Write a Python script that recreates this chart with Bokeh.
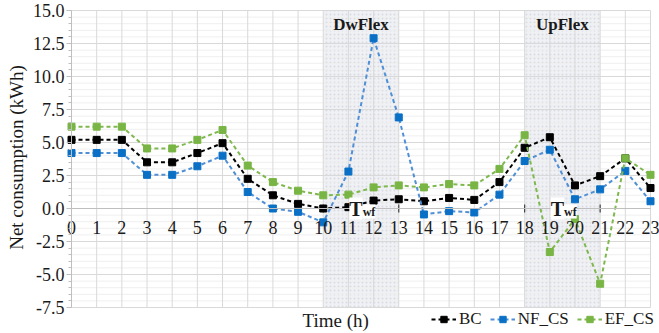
import math
from bokeh.plotting import figure
from bokeh.models import (Range1d, FixedTicker, NumeralTickFormatter,
                          Label, Legend, LegendItem)
from bokeh.embed import file_html
from bokeh.resources import INLINE

# ---- data ----
hours = list(range(24))
bc = [5.2, 5.2, 5.2, 3.5, 3.5, 4.2, 4.95, 2.25, 1.0, 0.35, 0.0, 0.1,
      0.6, 0.7, 0.55, 0.8, 0.65, 2.0, 4.6, 5.4, 1.75, 2.45, 3.8, 1.55]
nf_cs = [4.2, 4.2, 4.2, 2.55, 2.55, 3.2, 4.0, 1.25, 0.0, -0.25, -1.05, 2.8,
         12.9, 6.9, -0.45, -0.2, -0.3, 1.05, 3.6, 4.45, 0.7, 1.45, 2.85, 0.55]
ef_cs = [6.2, 6.2, 6.2, 4.55, 4.55, 5.2, 5.95, 3.25, 2.0, 1.35, 1.0, 1.05,
         1.6, 1.75, 1.6, 1.85, 1.75, 3.0, 5.55, -3.3, -0.8, -5.7, 3.8, 2.55]
series_names = ["BC", "NF_CS", "EF_CS"]
x_tick_labels = [str(h) for h in hours]
y_ticks = [-7.5, -5.0, -2.5, 0.0, 2.5, 5.0, 7.5, 10.0, 12.5, 15.0]
y_min, y_max = y_ticks[0], y_ticks[-1]
dw_window = (10, 13)
up_window = (18, 21)
window_names = ["DwFlex", "UpFlex"]
y_title = "Net consumption (kWh)"
x_title = "Time (h)"

FONT = "Liberation Serif"
GRID = "#d9d9d9"
MINOR = "#efefef"
AXIS = "#bfbfbf"
TXT = "#1a1a1a"

W, H = 659, 333
# plot area in canvas pixels: x=0 -> 71, x=23 -> 650 ; y=15 -> 10, y=-7.5 -> 307
X0, X1, Y0, Y1 = 71, 650, 10, 307
px_x = (X1 - X0) / 23
px_y = (Y1 - Y0) / (y_max - y_min)
x_range = Range1d(-X0 / px_x, 23 + (W - X1) / px_x)
y_range = Range1d(y_min - (H - Y1) / px_y, y_max + Y0 / px_y)

p = figure(width=W, height=H, output_backend="svg", toolbar_location=None,
           x_range=x_range, y_range=y_range,
           min_border_left=0, min_border_right=0, min_border_top=0, min_border_bottom=0)
p.background_fill_color = "white"
p.border_fill_color = "white"
p.outline_line_color = None
p.xgrid.visible = False
p.ygrid.visible = False

# flexibility windows (shaded)
p.quad(left=[dw_window[0], up_window[0]], right=[dw_window[1], up_window[1]],
       bottom=y_min, top=y_max, fill_color="#e1e4ea", fill_alpha=0.5,
       hatch_pattern="dot", hatch_color="#b5bbc6", hatch_alpha=0.4,
       hatch_scale=4, hatch_weight=0.6, line_color=None)

# grid lines drawn from the tick arrays
minor_ticks = [a + k * (b - a) / 5 for a, b in zip(y_ticks[:-1], y_ticks[1:]) for k in range(1, 5)]
p.segment(x0=0, y0=minor_ticks, x1=23, y1=minor_ticks, line_color=MINOR, line_width=1)
p.segment(x0=0, y0=y_ticks, x1=23, y1=y_ticks, line_color=GRID, line_width=1)
p.segment(x0=hours, y0=y_min, x1=hours, y1=y_max, line_color=GRID, line_width=1)

# x axis at y = 0
xt = FixedTicker(ticks=hours)
p.xaxis.ticker = xt
p.xaxis.major_label_overrides = {h: lab for h, lab in zip(hours, x_tick_labels)}
p.xaxis.fixed_location = 0
p.xaxis.bounds = (0, 23)
p.xaxis.axis_line_color = AXIS
p.xaxis.major_tick_line_color = None
p.xaxis.minor_tick_line_color = None
p.xaxis.major_label_standoff = 6
p.xaxis.major_label_text_font = FONT
p.xaxis.major_label_text_font_size = "18px"
p.xaxis.major_label_text_color = TXT

# y axis at x = 0
yt = FixedTicker(ticks=y_ticks, minor_ticks=minor_ticks)
p.yaxis.ticker = yt
p.yaxis.fixed_location = 0
p.yaxis.bounds = (y_min, y_max)
p.yaxis.formatter = NumeralTickFormatter(format="0.0")
p.yaxis.axis_line_color = AXIS
p.yaxis.major_tick_line_color = AXIS
p.yaxis.minor_tick_line_color = AXIS
p.yaxis.major_tick_in = 0
p.yaxis.major_tick_out = 5
p.yaxis.minor_tick_in = 0
p.yaxis.minor_tick_out = 3
p.yaxis.major_label_standoff = 2
p.yaxis.major_label_text_font = FONT
p.yaxis.major_label_text_font_size = "18px"
p.yaxis.major_label_text_color = TXT

for (a, b), name in zip([dw_window, up_window], window_names):
    p.add_layout(Label(x=(a + b) / 2, y=13.95, text=name, text_font=FONT,
                       text_font_size="17px", text_font_style="bold",
                       text_align="center", text_baseline="middle", text_color=TXT))
    # T_wf bracket
    p.segment(x0=[a, a, b], y0=[0, -0.3, -0.3], x1=[b, a, b], y1=[0, 0.3, 0.3],
              line_color="#404040", line_width=1.2)
    p.add_layout(Label(x=(a + b) / 2, y=0, x_offset=-5, text="T", text_font=FONT,
                       text_font_size="20px", text_font_style="bold",
                       text_align="center", text_baseline="middle", text_color=TXT,
                       background_fill_color="white"))
    p.add_layout(Label(x=(a + b) / 2, y=0, x_offset=8, y_offset=-3, text="wf", text_font=FONT,
                       text_font_size="12px", text_font_style="bold",
                       text_align="center", text_baseline="middle", text_color=TXT,
                       background_fill_color="white"))

# series
styles = [("#000000", "#000000"), ("#4f8fd6", "#0a70c6"), ("#7fb84e", "#78b544")]
items = []
for name, ys, (lc, mc) in zip(series_names, [bc, nf_cs, ef_cs], styles):
    ln = p.line(hours, ys, line_color=lc, line_width=2, line_dash="4 3")
    sc = p.scatter(hours, ys, marker="square", size=7, fill_color=mc, line_color=mc)
    items.append(LegendItem(label=name, renderers=[ln, sc]))

legend = Legend(items=items, orientation="horizontal", location=(431, 4),
                label_text_font=FONT, label_text_font_size="17px",
                label_text_color=TXT, glyph_width=25, glyph_height=16, label_height=16,
                label_standoff=3, spacing=8, padding=0, margin=0,
                border_line_color=None, background_fill_alpha=0)
p.add_layout(legend)

p.add_layout(Label(x=302, y=H - 320, x_units="screen", y_units="screen", text=x_title,
                   text_font=FONT, text_font_size="19px", text_align="left",
                   text_baseline="middle", text_color=TXT))
p.add_layout(Label(x=16, y=H - 157, x_units="screen", y_units="screen",
                   text=y_title, angle=math.pi / 2,
                   text_font=FONT, text_font_size="19px", text_align="center",
                   text_baseline="middle", text_color=TXT))

open("out.html", "w").write(file_html(p, INLINE))
